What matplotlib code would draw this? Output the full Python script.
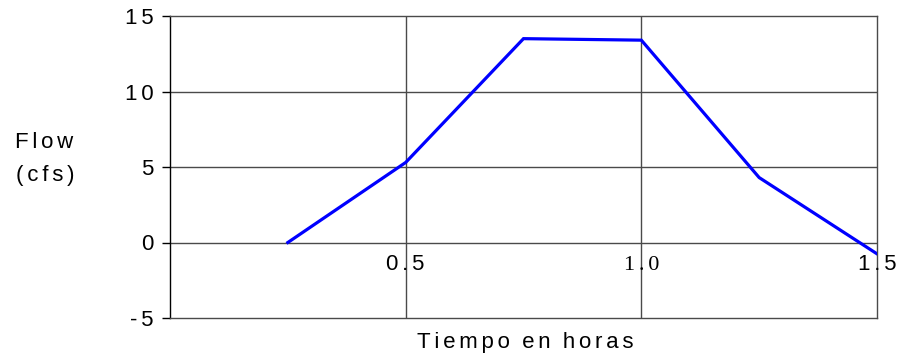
import matplotlib
matplotlib.use("Agg")
import matplotlib.pyplot as plt
from matplotlib.transforms import offset_copy

# Hydrograph values
time_h = [0.25, 0.5, 0.75, 1.0, 1.25, 1.5]
flow_cfs = [0.0, 5.3, 13.5, 13.4, 4.3, -0.75]
y_ticks = [-5, 0, 5, 10, 15]
y_tick_labels = ["-5", "0", "5", "10", "15"]
x_marks = [0.5, 1.0, 1.5]
x_mark_labels = ["0.5", "1.0", "1.5"]
x_mark_fonts = ["Liberation Sans", "Liberation Serif", "Liberation Sans"]

plt.rcParams['font.family'] = ['Liberation Sans', 'DejaVu Sans']
FS = 16
SP = "\u2006"  # six-per-em space used for letter tracking


def track(s, word_gap=" " + SP):
    """Insert a narrow space between letters (wider gap between words)."""
    return word_gap.join(SP.join(w) for w in s.split(" "))


fig = plt.figure(figsize=(8.97, 3.6), dpi=100)
ax = fig.add_axes([170/897, 1-318/360, (877-170)/897, (318-16)/360])

ax.set_xlim(0, 1.5)
ax.set_ylim(-5, 15)

grid_c = "#4a4a4a"
for yv in [0, 5, 10]:
    ax.axhline(yv, color=grid_c, lw=1.0, zorder=1)
for xv in [0.5, 1.0]:
    ax.axvline(xv, color=grid_c, lw=1.0, zorder=1)

for side in ["top", "right", "bottom"]:
    ax.spines[side].set_color(grid_c)
    ax.spines[side].set_linewidth(1.0)
ax.spines["left"].set_color("black")
ax.spines["left"].set_linewidth(1.0)

ax.plot(time_h, flow_cfs, color="#0000ff", lw=2.3, zorder=3, solid_joinstyle="miter")

ax.set_yticks(y_ticks)
ax.set_yticklabels([track(t) for t in y_tick_labels], fontsize=FS)
ax.tick_params(axis="y", direction="out", length=6, width=1, color="black", pad=6)
ax.set_xticks([])

trans = offset_copy(ax.transData, fig=fig, x=0, y=-20, units="points")
for xv, lab, fam in zip(x_marks, x_mark_labels, x_mark_fonts):
    ax.text(xv, 0, track(lab), transform=trans, ha="center", va="baseline",
            fontsize=FS, family=[fam, 'DejaVu Sans'], clip_on=False)

fig.text(44/897, 1-148/360, track("Flow"), ha="center", va="baseline", fontsize=FS)
fig.text(45/897, 1-181/360, track("(cfs)"), ha="center", va="baseline", fontsize=FS)
fig.text(525/897, 1-348/360, track("Tiempo en horas", "  "), ha="center",
         va="baseline", fontsize=FS)

fig.savefig("out.png", dpi=100)
